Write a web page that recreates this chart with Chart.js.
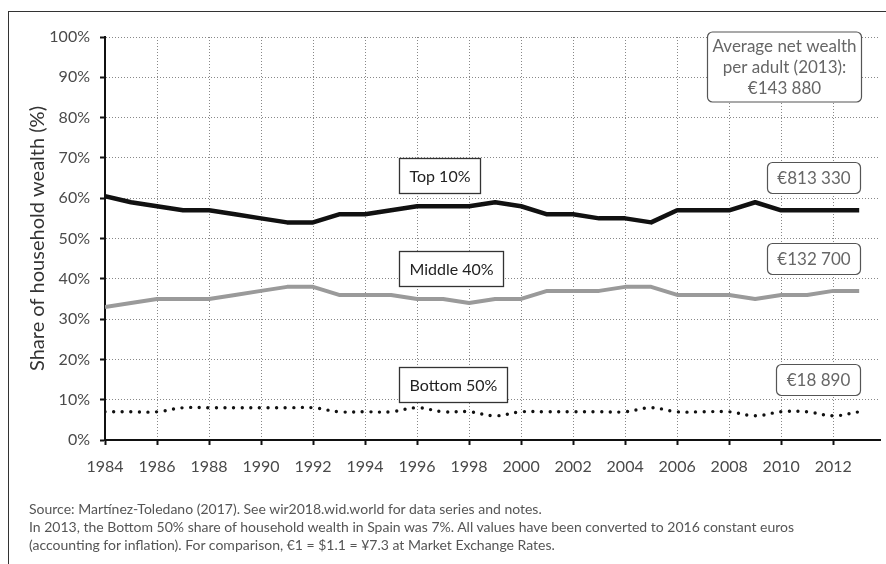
<!DOCTYPE html>
<html>
<head>
<meta charset="utf-8">
<script src="https://cdn.jsdelivr.net/npm/chart.js@4"></script>
<style>
  html, body { margin: 0; padding: 0; background: #fff; }
  body { width: 886px; height: 564px; position: relative; overflow: hidden; font-family: Lato, 'Open Sans', sans-serif; }
  #frame { position: absolute; left: 8px; top: 11px; width: 900px; height: 600px; border-left: 1.5px solid #333; border-top: 1.5px solid #333; }
  #wrap { position: absolute; left: 0; top: 0; width: 886px; height: 564px; }
  #note { position: absolute; left: 29px; top: 500px; font-size: 14px; line-height: 18px; color: #555; white-space: nowrap; }
</style>
</head>
<body>
<div id="frame"></div>
<div id="wrap"><canvas id="chart" width="886" height="564"></canvas></div>
<div id="note">
  Source: Martínez-Toledano (2017). See wir2018.wid.world for data series and notes.<br>
  In 2013, the Bottom 50% share of household wealth in Spain was 7%. All values have been converted to 2016 constant euros<br>
  (accounting for inflation). For comparison, €1 = $1.1 = ¥7.3 at Market Exchange Rates.
</div>
<script>
// Spain, share of household wealth (%), 1984-2013
const years = [1984, 1985, 1986, 1987, 1988, 1989, 1990, 1991, 1992, 1993,
               1994, 1995, 1996, 1997, 1998, 1999, 2000, 2001, 2002, 2003,
               2004, 2005, 2006, 2007, 2008, 2009, 2010, 2011, 2012, 2013];
const top10 = [60.5, 59, 58, 57, 57, 56, 55, 54, 54, 56,
               56, 57, 58, 58, 58, 59, 58, 56, 56, 55,
               55, 54, 57, 57, 57, 59, 57, 57, 57, 57];
const middle40 = [33, 34, 35, 35, 35, 36, 37, 38, 38, 36,
                  36, 36, 35, 35, 34, 35, 35, 37, 37, 37,
                  38, 38, 36, 36, 36, 35, 36, 36, 37, 37];
const bottom50 = [7, 7, 7, 8, 8, 8, 8, 8, 8, 7,
                  7, 7, 8, 7, 7, 6, 7, 7, 7, 7,
                  7, 8, 7, 7, 7, 6, 7, 7, 6, 7];
const yearTicks = [1984, 1986, 1988, 1990, 1992, 1994, 1996, 1998,
                   2000, 2002, 2004, 2006, 2008, 2010, 2012];

const groupNames = ['Top 10%', 'Middle 40%', 'Bottom 50%'];
const groupWealth = ['€813 330', '€132 700', '€18 890'];
const averageText = ['Average net wealth', 'per adult (2013):', '€143 880'];

const FONT = 'Lato, "Open Sans", sans-serif';

// where the annotation boxes sit, in data units
const groupBoxAt = [[1995.3, 65.5], [1995.3, 42.4], [1995.3, 13.6]];
const wealthBoxAt = [[2013.05, 65], [2013.05, 45], [2013.05, 14.8]];
const averageBoxAt = [2013.08, 92.5];

function pts(vals) {
    return vals.map((v, i) => ({ x: years[i], y: v }));
}

function roundRect(ctx, x, y, w, h, r) {
    ctx.beginPath();
    ctx.moveTo(x + r, y);
    ctx.lineTo(x + w - r, y);
    ctx.arcTo(x + w, y, x + w, y + r, r);
    ctx.lineTo(x + w, y + h - r);
    ctx.arcTo(x + w, y + h, x + w - r, y + h, r);
    ctx.lineTo(x + r, y + h);
    ctx.arcTo(x, y + h, x, y + h - r, r);
    ctx.lineTo(x, y + r);
    ctx.arcTo(x, y, x + r, y, r);
    ctx.closePath();
}

const annotations = {
    id: 'annotations',
    afterDraw(chart) {
        const { ctx, scales: { x, y }, chartArea } = chart;
        ctx.save();

        // y axis title
        ctx.save();
        ctx.translate(38, (chartArea.top + chartArea.bottom) / 2);
        ctx.rotate(-Math.PI / 2);
        ctx.font = `20px ${FONT}`;
        ctx.fillStyle = '#333';
        ctx.textAlign = 'center';
        ctx.textBaseline = 'middle';
        ctx.fillText('Share of household wealth (%)', 0, 0);
        ctx.restore();

        // group labels, square boxes
        ctx.font = `16px ${FONT}`;
        ctx.textBaseline = 'middle';
        groupNames.forEach((name, i) => {
            const left = Math.round(x.getPixelForValue(groupBoxAt[i][0])) + 0.5;
            const cy = Math.round(y.getPixelForValue(groupBoxAt[i][1]));
            const w = Math.round(ctx.measureText(name).width + 20);
            const h = 35;
            ctx.fillStyle = '#fff';
            ctx.fillRect(left, cy - h / 2, w, h);
            ctx.strokeStyle = '#333';
            ctx.lineWidth = 1.3;
            ctx.strokeRect(left, cy - h / 2, w, h);
            ctx.fillStyle = '#222';
            ctx.textAlign = 'center';
            ctx.fillText(name, left + w / 2, cy + 1);
        });

        // wealth values, rounded boxes
        ctx.font = `17px ${FONT}`;
        groupWealth.forEach((txt, i) => {
            const right = Math.round(x.getPixelForValue(wealthBoxAt[i][0])) + 0.5;
            const cy = Math.round(y.getPixelForValue(wealthBoxAt[i][1]));
            const w = Math.round(ctx.measureText(txt).width + 20);
            const h = 31;
            roundRect(ctx, right - w, cy - h / 2, w, h, 5);
            ctx.fillStyle = '#fff';
            ctx.fill();
            ctx.strokeStyle = '#555';
            ctx.lineWidth = 1.2;
            ctx.stroke();
            ctx.fillStyle = '#666';
            ctx.textAlign = 'center';
            ctx.fillText(txt, right - w / 2, cy + 1);
        });

        // average net wealth box
        const right = Math.round(x.getPixelForValue(averageBoxAt[0])) + 0.5;
        const cy = Math.round(y.getPixelForValue(averageBoxAt[1]));
        const w = Math.round(Math.max(...averageText.map((t) => ctx.measureText(t).width)) + 10);
        const h = 70;
        roundRect(ctx, right - w, cy - h / 2, w, h, 5);
        ctx.fillStyle = '#fff';
        ctx.fill();
        ctx.strokeStyle = '#555';
        ctx.lineWidth = 1.2;
        ctx.stroke();
        ctx.fillStyle = '#666';
        ctx.textAlign = 'center';
        averageText.forEach((t, i) => {
            ctx.fillText(t, right - w / 2, cy + (i - 1) * 21 + 1);
        });

        ctx.restore();
    }
};

const tickFont = { family: FONT, size: 16 };

new Chart(document.getElementById('chart'), {
    type: 'line',
    data: {
        datasets: [
            {
                label: 'Top 10%',
                data: pts(top10),
                borderColor: '#111',
                borderWidth: 4.5,
                pointRadius: 0,
                tension: 0,
                borderJoinStyle: 'round'
            },
            {
                label: 'Middle 40%',
                data: pts(middle40),
                borderColor: '#9a9a9a',
                borderWidth: 4,
                pointRadius: 0,
                tension: 0,
                borderJoinStyle: 'round'
            },
            {
                label: 'Bottom 50%',
                data: pts(bottom50),
                borderColor: '#111',
                borderWidth: 3.4,
                borderDash: [0, 8.6],
                borderCapStyle: 'round',
                pointRadius: 0,
                tension: 0.4
            }
        ]
    },
    options: {
        responsive: false,
        animation: false,
        events: [],
        layout: { padding: { left: 45, right: 6, top: 37, bottom: 84 } },
        plugins: {
            legend: { display: false },
            tooltip: { enabled: false }
        },
        scales: {
            x: {
                type: 'linear',
                min: 1984,
                max: 2013.8,
                afterFit: (s) => { s.height = 40; },
                afterBuildTicks: (s) => {
                    s.ticks = yearTicks.map((v) => ({ value: v }));
                },
                ticks: {
                    color: '#4a4a4a',
                    font: tickFont,
                    padding: 12,
                    maxRotation: 0,
                    autoSkip: false,
                    callback: (v) => String(v)
                },
                grid: {
                    color: '#888',
                    lineWidth: 1,
                    tickColor: '#111',
                    tickWidth: 2,
                    tickLength: 5
                },
                border: { color: '#111', width: 2, dash: [1, 2] }
            },
            y: {
                min: 0,
                max: 100,
                afterFit: (s) => { s.width = 60; },
                ticks: {
                    stepSize: 10,
                    color: '#4a4a4a',
                    font: tickFont,
                    padding: 10,
                    callback: (v) => v + '%'
                },
                grid: {
                    color: '#888',
                    lineWidth: 1,
                    tickColor: '#111',
                    tickWidth: 2,
                    tickLength: 5
                },
                border: { color: '#111', width: 2, dash: [1, 2] }
            }
        }
    },
    plugins: [annotations]
});
</script>
</body>
</html>
